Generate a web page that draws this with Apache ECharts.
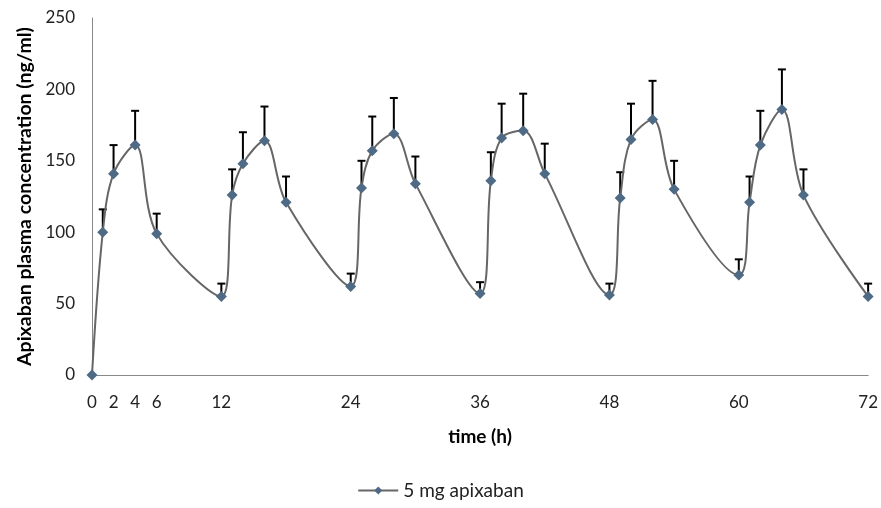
<!DOCTYPE html>
<html>
<head>
<meta charset="utf-8">
<script src="https://cdn.jsdelivr.net/npm/echarts@6/dist/echarts.min.js"></script>
<style>
	html,body{margin:0;padding:0;background:#fff;}
	#chart{width:881px;height:508px;}
</style>
</head>
<body>
<div id="chart"></div>
<script>
	// time points (h)
	var times = [0, 1, 2, 4, 6, 12, 13, 14, 16, 18, 24, 25, 26, 28, 30, 36, 37, 38, 40, 42, 48, 49, 50, 52, 54, 60, 61, 62, 64, 66, 72];
	// mean plasma concentration (ng/ml)
	var means = [0, 100, 141, 161, 99, 55, 126, 148, 164, 121, 62, 131, 157, 169, 134, 57, 136, 166, 171, 141, 56, 124, 165, 179, 130, 70, 121, 161, 186, 126, 55];
	// upper error (SD)
	var sds = [0, 16, 20, 24, 14, 9, 18, 22, 24, 18, 9, 19, 24, 25, 19, 8, 20, 24, 26, 21, 8, 18, 25, 27, 20, 11, 18, 24, 28, 18, 9];
	var xTickLabels = [0, 2, 4, 6, 12, 24, 36, 48, 60, 72];

	var fontName = 'Lato';
	var lineData = times.map(function (t, i) { return [t, means[i]]; });
	var errData = times.map(function (t, i) { return [t, means[i], means[i] + sds[i]]; });

	var chart = echarts.init(document.getElementById('chart'));
	var option = {
		animation: false,
		textStyle: { fontFamily: fontName },
		grid: { left: 92, right: 12, top: 18, bottom: 133 },
		legend: {
			bottom: 3,
			left: 'center',
			itemWidth: 40,
			itemHeight: 10,
			itemGap: 6,
			textStyle: { fontSize: 19, color: '#222', fontFamily: fontName },
			data: ['5 mg apixaban']
		},
		xAxis: {
			type: 'value',
			min: 0,
			max: 72,
			interval: 2,
			name: 'time (h)',
			nameLocation: 'middle',
			nameGap: 52,
			nameTextStyle: { fontSize: 19, fontWeight: 'bold', color: '#000', fontFamily: fontName },
			axisLine: { lineStyle: { color: '#888', width: 1 } },
			axisTick: { show: false },
			splitLine: { show: false },
			axisLabel: {
				fontSize: 17,
				color: '#222',
				margin: 19,
				formatter: function (v) {
					return xTickLabels.indexOf(v) >= 0 ? String(v) : '';
				}
			}
		},
		yAxis: {
			type: 'value',
			min: 0,
			max: 250,
			interval: 50,
			name: 'Apixaban plasma concentration (ng/ml)',
			nameLocation: 'middle',
			nameGap: 56,
			nameTextStyle: { fontSize: 19.5, fontWeight: 'bold', color: '#000', fontFamily: fontName },
			axisLine: { show: true, lineStyle: { color: '#888', width: 1 } },
			axisTick: { show: false },
			splitLine: { show: false },
			axisLabel: { fontSize: 17, color: '#222', margin: 17 }
		},
		series: [
			{
				name: 'error',
				type: 'custom',
				z: 1,
				silent: true,
				data: errData,
				renderItem: function (params, api) {
					var x = api.value(0);
					var lo = api.coord([x, api.value(1)]);
					var hi = api.coord([x, api.value(2)]);
					if (api.value(2) <= api.value(1)) return;
					return {
						type: 'group',
						children: [
							{ type: 'line', shape: { x1: lo[0], y1: lo[1], x2: hi[0], y2: hi[1] }, style: { stroke: '#000', lineWidth: 2 } },
							{ type: 'line', shape: { x1: hi[0] - 4, y1: hi[1], x2: hi[0] + 4, y2: hi[1] }, style: { stroke: '#000', lineWidth: 2 } }
						]
					};
				}
			},
			{
				name: '5 mg apixaban',
				type: 'line',
				z: 3,
				smooth: 0.35,
				data: lineData,
				symbol: 'diamond',
				symbolSize: 11,
				lineStyle: { color: '#666', width: 2 },
				itemStyle: { color: '#4e6a85' }
			}
		]
	};
	chart.setOption(option);
</script>
</body>
</html>
